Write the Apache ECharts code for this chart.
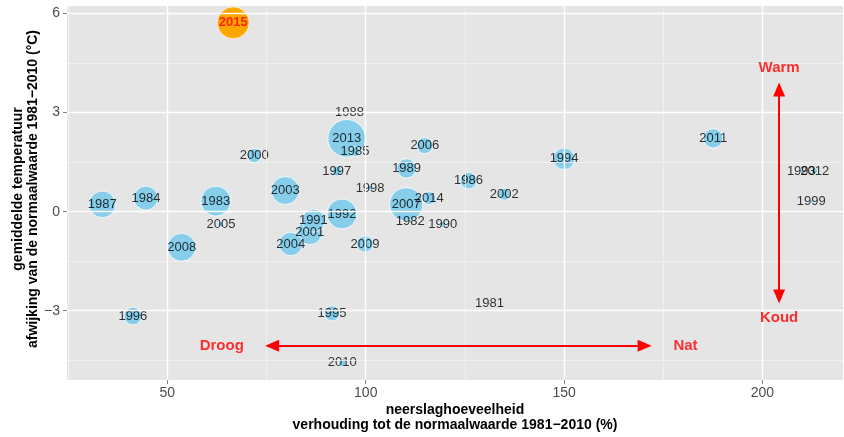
<!DOCTYPE html>
<html>
<head>
<meta charset="utf-8">
<title>Neerslag en temperatuur</title>
<script src="https://cdn.jsdelivr.net/npm/echarts@6.0.0/dist/echarts.min.js"></script>
<style>
  html, body { margin: 0; padding: 0; background: #fff; }
  #chart { width: 844px; height: 437px; }
</style>
</head>
<body>
<div id="chart"></div>
<script>
// jaren en waarden
const years = [1981, 1982, 1983, 1984, 1985, 1986, 1987, 1988, 1989, 1990,
  1991, 1992, 1993, 1994, 1995, 1996, 1997, 1998, 1999, 2000,
  2001, 2002, 2003, 2004, 2005, 2006, 2007, 2008, 2009, 2010,
  2011, 2012, 2013, 2014, 2015];
// neerslag, % van normaal
const rainPct = [131.2, 111.2, 62.2, 44.6, 97.3, 125.9, 33.6, 95.9, 110.3, 119.4,
  86.8, 94.0, 209.8, 150.0, 91.5, 41.3, 92.7, 101.1, 212.3, 71.9,
  85.9, 134.9, 79.7, 81.1, 63.5, 114.9, 110.2, 53.6, 99.8, 94.1,
  187.6, 213.2, 95.2, 116.0, 66.6];
// temperatuurafwijking, °C
const tempAnom = [-2.78, -0.29, 0.32, 0.41, 1.82, 0.94, 0.22, 3.0, 1.31, -0.38,
  -0.27, -0.07, 1.23, 1.60, -3.08, -3.16, 1.23, 0.71, 0.30, 1.70,
  -0.62, 0.53, 0.64, -0.98, -0.38, 2.0, 0.22, -1.08, -0.98, -4.58,
  2.22, 1.23, 2.22, 0.41, 5.72];
// derde grootheid (bolgrootte, relatieve schaal)
const bubbleValue = [0.6, 1, 62, 40, 7, 19, 49, 1, 26, 2.5,
  37, 62, 1, 32, 16, 22, 7, 2.5, 1, 14,
  43, 10, 54, 38, 2.5, 18, 77, 54, 19, 4.4,
  26, 2.5, 98, 12, 71];
const highlightYear = 2015;

const xTicks = [50, 100, 150, 200];
const xMinor = [25, 75, 125, 175];
const yTicks = [-3, 0, 3, 6];
const yMinor = [-4.5, -1.5, 1.5, 4.5];

// pijlen en teksten
const dryWetX = [76.4, 170.3];
const dryWetY = -4.06;
const coldWarmX = 204.2;
const coldWarmY = [3.70, -2.57];
const noteText = ['Droog', 'Nat', 'Warm', 'Koud'];
const noteX = [63.7, 180.6, 204.2, 204.2];
const noteY = [-4.06, -4.06, 4.35, -3.21];

const chart = echarts.init(document.getElementById('chart'), null, {renderer: 'canvas'});

// grote bollen eerst tekenen
const order = years.map((y, i) => i).sort((a, b) => bubbleValue[b] - bubbleValue[a]);

const bubbleData = order.map(i => ({
  value: [rainPct[i], tempAnom[i], bubbleValue[i]],
  itemStyle: {color: years[i] === highlightYear ? '#FFA500' : '#87CEEB'}
}));

const labelData = years.map((yr, i) => {
  let obj = {value: [rainPct[i], tempAnom[i]], name: String(yr)};
  if (yr === highlightYear) {
    obj.label = {color: '#FF0000', fontWeight: 'bold'};
  }
  return obj;
});

const gridMajor = {color: '#FFFFFF', width: 1.4, type: 'solid'};
const gridMinor = {color: '#F2F2F2', width: 0.8, type: 'solid'};
let gridLines = [];
xMinor.forEach(v => gridLines.push({xAxis: v, lineStyle: gridMinor}));
yMinor.forEach(v => gridLines.push({yAxis: v, lineStyle: gridMinor}));
xTicks.forEach(v => gridLines.push({xAxis: v, lineStyle: gridMajor}));
yTicks.forEach(v => gridLines.push({yAxis: v, lineStyle: gridMajor}));

const axisTitle = {color: '#000', fontWeight: 'bold', fontSize: 14, lineHeight: 15};
// tekst precies op het punt, zonder rand
const centred = {
  position: [0, 0], align: 'center', verticalAlign: 'middle',
  textBorderWidth: 0, textBorderColor: 'transparent', textShadowBlur: 0
};

const option = {
  animation: false,
  textStyle: {fontFamily: '"Liberation Sans", Arial, sans-serif'},
  grid: {
    left: 67, right: 1, top: 6, bottom: 57,
    outerBoundsMode: 'none',
    containLabel: false,
    show: true, backgroundColor: '#E5E5E5', borderWidth: 0
  },
  xAxis: {
    type: 'value',
    min: 24.7,
    max: 220.3,
    name: 'neerslaghoeveelheid\nverhouding tot de normaalwaarde 1981\u22122010 (%)',
    nameLocation: 'middle',
    nameGap: 23,
    nameMoveOverlap: false,
    nameTextStyle: axisTitle,
    axisLine: {show: false, onZero: false},
    axisTick: {show: true, customValues: xTicks, length: 4, lineStyle: {color: '#7F7F7F'}},
    axisLabel: {customValues: xTicks, color: '#4D4D4D', fontSize: 14, margin: 6},
    splitLine: {show: false}
  },
  yAxis: {
    type: 'value',
    min: -5.1,
    max: 6.23,
    name: 'gemiddelde temperatuur\nafwijking van de normaalwaarde 1981\u22122010 (\u00B0C)',
    nameLocation: 'middle',
    nameRotate: 90,
    nameGap: 26,
    nameMoveOverlap: false,
    nameTextStyle: Object.assign({padding: [0, 0, 0, 8]}, axisTitle),
    axisLine: {show: false, onZero: false},
    axisTick: {show: true, customValues: yTicks, length: 4, lineStyle: {color: '#7F7F7F'}},
    axisLabel: {
      customValues: yTicks, color: '#4D4D4D', fontSize: 14, margin: 7,
      formatter: v => String(v).replace('-', '\u2212')
    },
    splitLine: {show: false}
  },
  series: [
    {
      name: 'raster',
      type: 'line',
      data: [],
      silent: true,
      z: 1,
      markLine: {
        silent: true,
        symbol: 'none',
        animation: false,
        label: {show: false},
        emphasis: {disabled: true},
        data: gridLines
      }
    },
    {
      name: 'bollen',
      type: 'scatter',
      z: 3,
      silent: true,
      data: bubbleData,
      symbol: 'circle',
      symbolSize: d => 3.8 * Math.sqrt(d[2]),
      itemStyle: {borderColor: '#FFFFFF', borderWidth: 0.8, opacity: 1},
      emphasis: {disabled: true}
    },
    {
      name: 'jaren',
      type: 'scatter',
      z: 4,
      silent: true,
      data: labelData,
      symbolSize: 0,
      label: Object.assign({
        show: true,
        formatter: p => p.name,
        color: '#000000',
        fontSize: 13
      }, centred),
      emphasis: {disabled: true}
    },
    {
      name: 'pijlen',
      type: 'line',
      data: [],
      silent: true,
      z: 5,
      markLine: {
        silent: true,
        animation: false,
        symbol: ['triangle', 'triangle'],
        symbolSize: [12, 14],
        label: {show: false},
        emphasis: {disabled: true},
        lineStyle: {color: '#FF0000', width: 2, type: 'solid'},
        itemStyle: {color: '#FF0000'},
        data: [
          [{coord: [dryWetX[0], dryWetY]}, {coord: [dryWetX[1], dryWetY]}],
          [{coord: [coldWarmX, coldWarmY[0]]}, {coord: [coldWarmX, coldWarmY[1]]}]
        ]
      }
    },
    {
      name: 'teksten',
      type: 'scatter',
      z: 6,
      silent: true,
      data: noteText.map((t, i) => ({value: [noteX[i], noteY[i]], name: t})),
      symbolSize: 0,
      label: Object.assign({
        show: true,
        formatter: p => p.name,
        color: '#FF0000',
        fontWeight: 'bold',
        fontSize: 15
      }, centred),
      emphasis: {disabled: true}
    }
  ]
};

chart.setOption(option);
</script>
</body>
</html>
